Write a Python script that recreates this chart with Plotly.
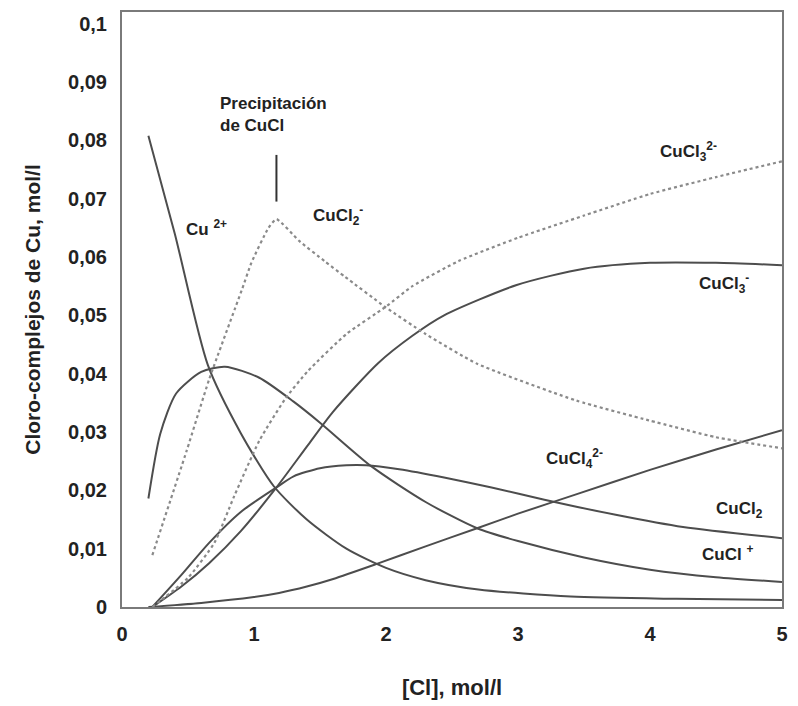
import plotly.graph_objects as go

# ---- data ----
cu2_x = [0.2, 0.4, 0.65, 0.9, 1.15, 1.4, 1.7, 2.0, 2.3, 2.7, 3.4, 4.2, 5.0]
cu2_y = [0.0808, 0.064, 0.0415, 0.0298, 0.0207, 0.0150, 0.0100, 0.0067, 0.0046, 0.0030, 0.0018, 0.0014, 0.0012]

cucl_x = [0.2, 0.29, 0.41, 0.6, 0.78, 1.04, 1.3, 1.5, 1.89, 2.3, 2.69, 3.0, 3.5, 4.0, 4.5, 5.0]
cucl_y = [0.0186, 0.0297, 0.0366, 0.0403, 0.0412, 0.0393, 0.0352, 0.0316, 0.0241, 0.0180, 0.0135, 0.0113, 0.0085, 0.0064, 0.0051, 0.0043]

cucl2_x = [0.23, 0.45, 0.66, 0.9, 1.17, 1.3, 1.5, 1.7, 1.85, 2.1, 2.44, 2.8, 3.2, 3.74, 4.25, 5.0]
cucl2_y = [0.0, 0.0055, 0.011, 0.0163, 0.0205, 0.0224, 0.0238, 0.0243, 0.0243, 0.0236, 0.0222, 0.0205, 0.0184, 0.0158, 0.0137, 0.0118]

cucl3m_x = [0.23, 0.45, 0.66, 0.9, 1.17, 1.41, 1.6, 1.94, 2.2, 2.44, 2.99, 3.5, 4.0, 4.5, 5.0]
cucl3m_y = [0.0, 0.0035, 0.0075, 0.013, 0.0205, 0.0278, 0.0335, 0.0418, 0.0465, 0.0500, 0.0552, 0.0580, 0.0590, 0.0590, 0.0586]

cucl4_x = [0.2, 0.6, 1.0, 1.19, 1.4, 1.6, 1.92, 2.3, 2.69, 3.0, 3.44, 4.0, 4.5, 5.0]
cucl4_y = [0.0, 0.0007, 0.0017, 0.0024, 0.0035, 0.0048, 0.0073, 0.0104, 0.0135, 0.0160, 0.0193, 0.0235, 0.0270, 0.0303]

cucl2m_x = [0.23, 0.49, 0.66, 0.91, 0.98, 1.11, 1.17, 1.34, 1.54, 1.69, 1.99, 2.3, 2.69, 3.44, 3.99, 4.5, 5.0]
cucl2m_y = [0.0089, 0.0268, 0.0390, 0.0545, 0.0590, 0.0650, 0.0665, 0.0628, 0.0592, 0.0566, 0.0515, 0.0468, 0.0417, 0.0354, 0.0320, 0.0291, 0.0272]

cucl3mm_x = [0.23, 0.5, 0.7, 0.85, 1.04, 1.24, 1.41, 1.7, 2.0, 2.2, 2.55, 3.0, 3.5, 4.0, 4.5, 5.0]
cucl3mm_y = [0.0, 0.005, 0.011, 0.019, 0.0285, 0.0358, 0.0405, 0.0468, 0.0515, 0.0550, 0.0593, 0.0633, 0.0671, 0.0708, 0.0737, 0.0764]

x_ticks = [0, 1, 2, 3, 4, 5]
y_ticks = [0, 0.01, 0.02, 0.03, 0.04, 0.05, 0.06, 0.07, 0.08, 0.09, 0.1]

labels_text = ["Cu <sup>2+</sup>", "CuCl<sub>2</sub><sup>-</sup>", "CuCl<sub>3</sub><sup>2-</sup>",
               "CuCl<sub>3</sub><sup>-</sup>", "CuCl<sub>4</sub><sup>2-</sup>", "CuCl<sub>2</sub>",
               "CuCl <sup>+</sup>", "Precipitación<br>de CuCl"]
labels_x = [0.64, 1.64, 4.29, 4.56, 3.43, 4.68, 4.59, 1.15]
labels_y = [0.0650, 0.0672, 0.0781, 0.0554, 0.0255, 0.0166, 0.0092, 0.0845]

SOLID = "#4d4d4d"
DOT = "#8a8a8a"
FONT = "Liberation Sans, Arial, sans-serif"

fig = go.Figure()

solid_series = [(cu2_x, cu2_y, "Cu2+"), (cucl_x, cucl_y, "CuCl+"), (cucl2_x, cucl2_y, "CuCl2"),
                (cucl3m_x, cucl3m_y, "CuCl3-"), (cucl4_x, cucl4_y, "CuCl4 2-")]
for xs, ys, nm in solid_series:
    fig.add_trace(go.Scatter(x=xs, y=ys, mode="lines", name=nm,
                             line=dict(color=SOLID, width=2, shape="spline", smoothing=0.7)))

dot_series = [(cucl2m_x, cucl2m_y, "CuCl2-"), (cucl3mm_x, cucl3mm_y, "CuCl3 2-")]
for xs, ys, nm in dot_series:
    fig.add_trace(go.Scatter(x=xs, y=ys, mode="lines", name=nm,
                             line=dict(color=DOT, width=2.2, dash="dot", shape="spline", smoothing=0.5)))

# precipitation marker above the CuCl2- maximum
peak_i = cucl2m_y.index(max(cucl2m_y))
px_ = cucl2m_x[peak_i]
fig.add_shape(type="line", x0=px_, x1=px_, y0=max(cucl2m_y) + 0.003, y1=max(cucl2m_y) + 0.011,
              line=dict(color="#333333", width=2), xref="x", yref="y")

for t, x, y in zip(labels_text, labels_x, labels_y):
    fig.add_annotation(x=x, y=y, text=t, showarrow=False, xref="x", yref="y",
                       font=dict(family=FONT, size=17, color="#222222", weight="bold"),
                       align="left")

axis_common = dict(showgrid=False, zeroline=False, showline=True, linecolor="#7a7a7a",
                   linewidth=2, mirror=True, ticks="",
                   tickfont=dict(family=FONT, size=20, color="#222222", weight="bold"))

fig.update_layout(
    width=798, height=706,
    margin=dict(l=122, r=11, t=10, b=99),
    paper_bgcolor="white", plot_bgcolor="white",
    showlegend=False,
    separators=", ",
    xaxis=dict(range=[0, 5], tickvals=x_ticks, ticklabelstandoff=8,
               title=dict(text="[Cl], mol/l", standoff=36,
                          font=dict(family=FONT, size=22, color="#222222", weight="bold")),
               **axis_common),
    yaxis=dict(range=[0, 0.102], tickvals=y_ticks, ticklabelstandoff=9,
               title=dict(text="Cloro-complejos de Cu, mol/l", standoff=22,
                          font=dict(family=FONT, size=21, color="#222222", weight="bold")),
               **axis_common),
)

fig.write_html("out.html")
